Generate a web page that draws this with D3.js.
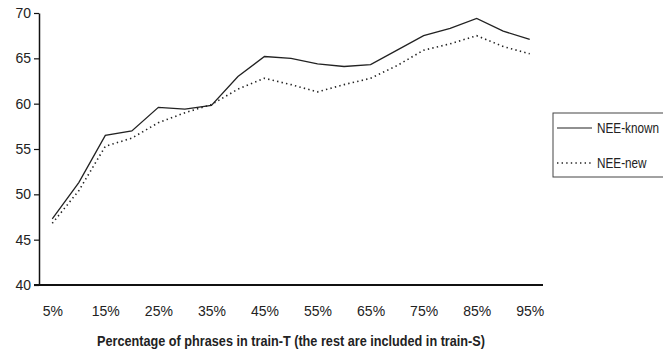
<!DOCTYPE html>
<html>
<head>
<meta charset="utf-8">
<script src="https://cdn.jsdelivr.net/npm/d3@7/dist/d3.min.js"></script>
<style>
  body { margin: 0; background: #fff; }
  svg { display: block; }
  .axis text { font-family: "Liberation Sans Narrow", "Liberation Sans", Arial, sans-serif; font-size: 14px; fill: #222; }
</style>
</head>
<body>
<svg id="chart"></svg>
<script>
// categories (percentage of phrases in train-T)
const categories = ["5%", "10%", "15%", "20%", "25%", "30%", "35%", "40%", "45%", "50%",
                    "55%", "60%", "65%", "70%", "75%", "80%", "85%", "90%", "95%"];
const xTickLabels = ["5%", "15%", "25%", "35%", "45%", "55%", "65%", "75%", "85%", "95%"];
const yTicks = [40, 45, 50, 55, 60, 65, 70];

const neeKnown = [47.3, 51.3, 56.5, 57.0, 59.6, 59.4, 59.8, 63.0, 65.2, 65.0,
                  64.4, 64.1, 64.3, 65.9, 67.5, 68.3, 69.4, 68.0, 67.1];
const neeNew   = [46.8, 50.4, 55.3, 56.2, 57.9, 59.0, 59.9, 61.6, 62.8, 62.1,
                  61.3, 62.1, 62.8, 64.2, 65.9, 66.6, 67.5, 66.3, 65.5];

const series = [
    {name: "NEE-known", values: neeKnown, dash: null},
    {name: "NEE-new", values: neeNew, dash: "1.4,3.2"}
];

const width = 663, height = 354;
const plot = {left: 39, right: 543, top: 13, bottom: 285};

const svg = d3.select('#chart')
    .attr('width', width)
    .attr('height', height);

const x = d3.scalePoint()
    .domain(categories)
    .range([plot.left, plot.right])
    .padding(0.5);

const y = d3.scaleLinear()
    .domain([40, 70])
    .range([plot.bottom, plot.top]);

// y axis
const yAxisG = svg.append('g')
    .attr('class', 'axis y-axis')
    .attr('transform', `translate(${plot.left},0)`)
    .call(d3.axisLeft(y).tickValues(yTicks).tickSize(5).tickSizeOuter(0).tickPadding(3));
yAxisG.select('.domain').attr('stroke', '#111').attr('stroke-width', 1.5);
yAxisG.selectAll('.tick line').attr('stroke', '#111').attr('stroke-width', 1.2);

// x axis
const xAxisG = svg.append('g')
    .attr('class', 'axis x-axis')
    .attr('transform', `translate(0,${plot.bottom})`)
    .call(d3.axisBottom(x).tickValues(xTickLabels).tickSize(0).tickPadding(21));
xAxisG.select('.domain')
    .attr('d', `M${plot.left - 5},0H${plot.right}`)
    .attr('stroke', '#111').attr('stroke-width', 2);

// lines
const line = d3.line()
    .x((d, i) => x(categories[i]))
    .y(d => y(d));

svg.selectAll('.series')
    .data(series)
    .join('path')
    .attr('class', 'series')
    .attr('d', d => line(d.values))
    .attr('fill', 'none')
    .attr('stroke', '#222')
    .attr('stroke-width', d => d.dash ? 1.6 : 1.3)
    .attr('stroke-dasharray', d => d.dash);

// x axis title (narrow font squeezed to the original width)
svg.append('text')
    .attr('x', 97)
    .attr('y', 346)
    .attr('textLength', 388)
    .attr('lengthAdjust', 'spacingAndGlyphs')
    .style('font-family', '"Liberation Sans Narrow", "Liberation Sans", Arial, sans-serif')
    .style('font-size', '15px')
    .style('font-weight', 'bold')
    .style('fill', '#222')
    .text('Percentage of phrases in train-T (the rest are included in train-S)');

// legend
const legend = svg.append('g').attr('transform', 'translate(553,113)');
legend.append('rect')
    .attr('width', 120).attr('height', 64)
    .attr('fill', '#fff').attr('stroke', '#444').attr('stroke-width', 1);

const items = legend.selectAll('.legend-item')
    .data(series)
    .join('g')
    .attr('class', 'legend-item')
    .attr('transform', (d, i) => `translate(0,${15 + i * 35})`);

items.append('line')
    .attr('x1', 4).attr('x2', 39)
    .attr('stroke', '#222')
    .attr('stroke-width', d => d.dash ? 1.4 : 1.2)
    .attr('stroke-dasharray', d => d.dash);

// condensed look: scale the glyphs horizontally
items.append('text')
    .attr('transform', 'translate(44,0) scale(0.81,1)')
    .attr('dy', '0.35em')
    .style('font-family', '"Liberation Sans Narrow", "Liberation Sans", Arial, sans-serif')
    .style('font-size', '14.5px')
    .style('fill', '#222')
    .text(d => d.name);
</script>
</body>
</html>
